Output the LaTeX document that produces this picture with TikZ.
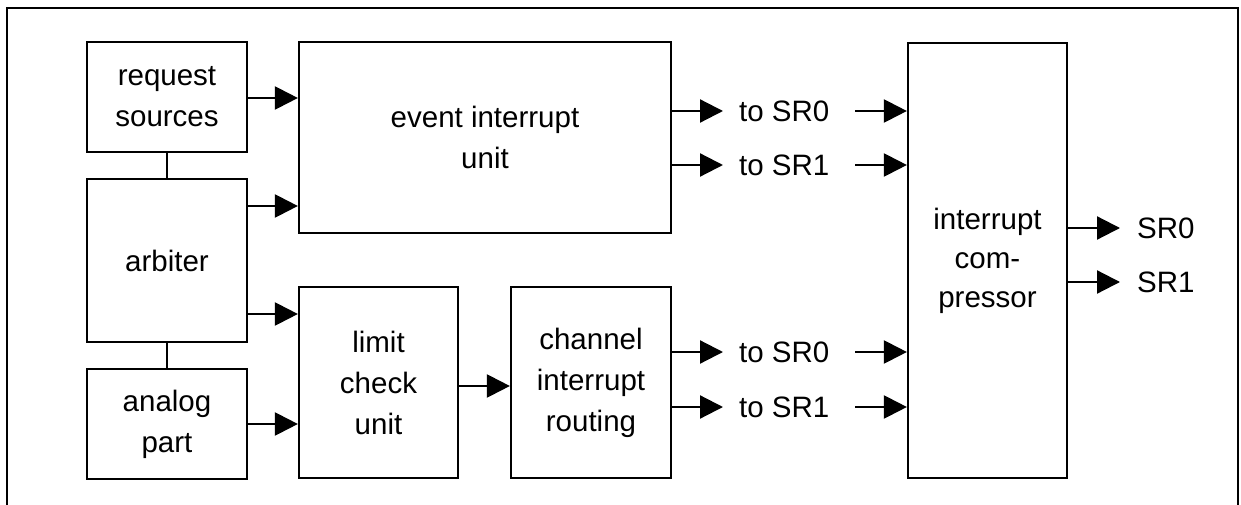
\documentclass[tikz,border=0pt]{standalone}
\usepackage{fontspec}
\setmainfont{Liberation Sans}
\usetikzlibrary{arrows.meta}
\tikzset{
  blk/.style={draw, line width=2.2pt, rectangle, inner sep=0pt, align=center,
    font=\fontsize{29.5}{41}\selectfont},
  lbl/.style={inner sep=0pt, anchor=west, font=\fontsize{29.5}{41}\selectfont},
  arr/.style={line width=2.2pt, -{Triangle[length=23pt,width=23pt]}},
  wire/.style={line width=2.2pt},
}
\begin{document}
\begin{tikzpicture}[x=1pt,y=-1pt]
\useasboundingbox (0,0) rectangle (1241,505);
% frame
\draw[line width=2pt] (7,505) -- (7,8) -- (1238,8) -- (1238,505);
% blocks
\node[blk, minimum width=160pt, minimum height=110pt] (rs) at (167,97) {request\\sources};
\node[blk, minimum width=160pt, minimum height=163pt] (arb) at (167,260.5) {arbiter};
\node[blk, minimum width=160pt, minimum height=110pt] (ana) at (167,424) {analog\\part};
\node[blk, minimum width=372pt, minimum height=191pt] (evt) at (485,137.5) {event interrupt\\unit};
\node[blk, minimum width=159pt, minimum height=191pt] (lim) at (378.5,382.5) {limit\\check\\unit};
\node[blk, minimum width=160pt, minimum height=191pt] (chn) at (591,382.5) {channel\\interrupt\\routing};
\node[blk, minimum width=159pt, minimum height=435pt, font=\fontsize{29.5}{39}\selectfont] (cmp) at (987.5,260.5) {interrupt\\com-\\pressor};
% labels
\node[lbl] (e0) at (739,111) {to SR0};
\node[lbl] (e1) at (739,165) {to SR1};
\node[lbl] (c0) at (739,352) {to SR0};
\node[lbl] (c1) at (739,407) {to SR1};
\node[lbl] (o0) at (1137,228) {SR0};
\node[lbl] (o1) at (1137,282) {SR1};
% vertical links
\draw[wire] (rs.south) -- (arb.north);
\draw[wire] (arb.south) -- (ana.north);
% inputs
\draw[arr] (rs.east |- 0,98) -- (evt.west |- 0,98);
\draw[arr] (arb.east |- 0,206) -- (evt.west |- 0,206);
\draw[arr] (arb.east |- 0,314) -- (lim.west |- 0,314);
\draw[arr] (ana.east |- 0,424) -- (lim.west |- 0,424);
\draw[arr] (lim.east |- 0,386) -- (chn.west |- 0,386);
% to SR outputs
\foreach \n/\src in {e0/evt,e1/evt,c0/chn,c1/chn}{
  \draw[arr] (\src.east |- \n.west) -- ([xshift=-16pt]\n.west);
  \draw[arr] ([xshift=116pt]\n.west) -- (cmp.west |- \n.west);
}
\draw[arr] (cmp.east |- o0.west) -- ([xshift=-17pt]o0.west);
\draw[arr] (cmp.east |- o1.west) -- ([xshift=-17pt]o1.west);
\end{tikzpicture}
\end{document}
